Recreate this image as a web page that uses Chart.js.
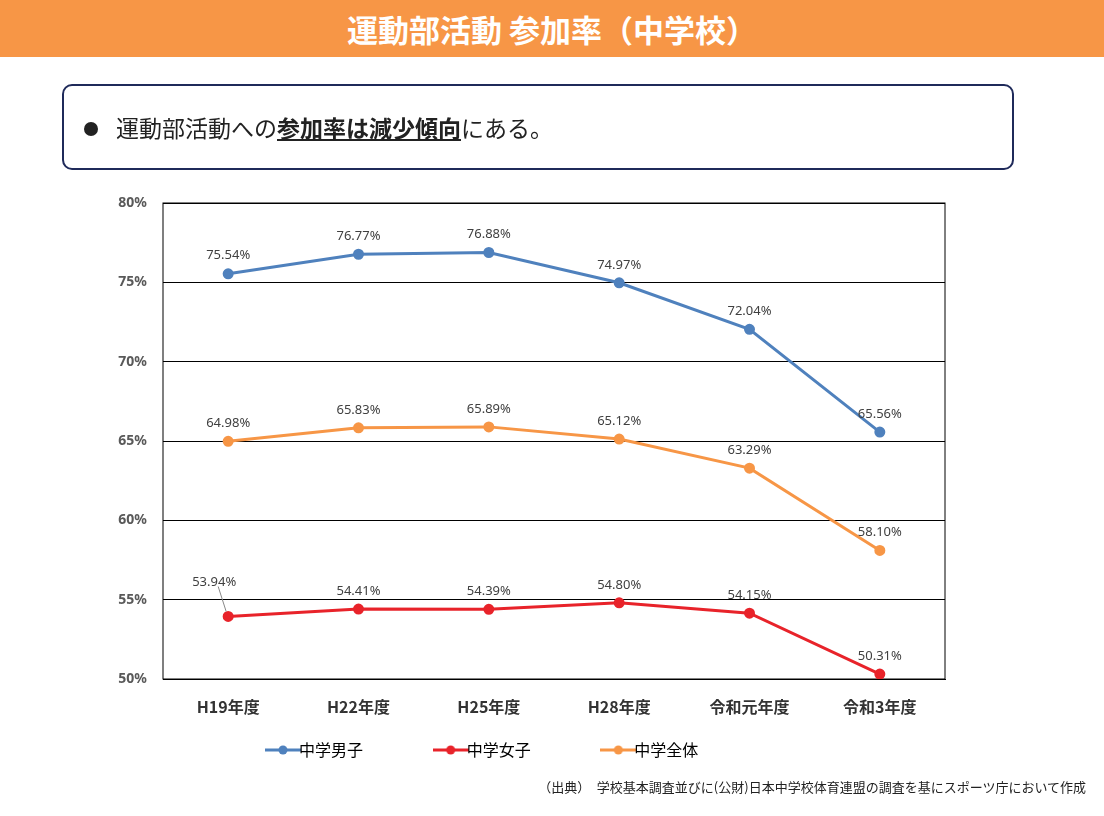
<!DOCTYPE html>
<html><head><meta charset="utf-8">
<script src="https://cdn.jsdelivr.net/npm/chart.js@4"></script>
<style>
body{margin:0;width:1104px;height:816px;position:relative;background:#fff;font-family:"Noto Sans CJK JP",sans-serif;overflow:hidden}
#title{position:absolute;left:0;top:0;width:1104px;height:57px;background:#F79646;color:#fff;font-weight:bold;font-size:31px;text-align:center;line-height:57px}
#box{position:absolute;left:62px;top:84px;width:948px;height:82px;border:2.5px solid #1F2A5A;border-radius:10px;font-size:23px;line-height:82px;color:#222}
#box .dot{display:inline-block;width:14px;height:14px;border-radius:7px;background:#222;margin:0 18px 0 20px;vertical-align:1px}
#box b{text-decoration:underline}
#src{position:absolute;right:18px;top:777px;font-size:13px;color:#222}
canvas{position:absolute;left:0;top:0}
</style></head><body>
<canvas id="lineChart" width="1104" height="816"></canvas>
<div id="title">運動部活動 参加率（中学校）</div>
<div id="box"><span class="dot"></span>運動部活動への<b>参加率は減少傾向</b>にある。</div>
<div id="src">（出典）　学校基本調査並びに(公財)日本中学校体育連盟の調査を基にスポーツ庁において作成</div>
<script>
var labels = ['H19年度','H22年度','H25年度','H28年度','令和元年度','令和3年度'];
var boys = [75.54, 76.77, 76.88, 74.97, 72.04, 65.56];
var girls = [53.94, 54.41, 54.39, 54.80, 54.15, 50.31];
var total = [64.98, 65.83, 65.89, 65.12, 63.29, 58.10];
var yTicks = [50, 55, 60, 65, 70, 75, 80];

function legendIcon(color) {
    var c = document.createElement('canvas');
    c.width = 36; c.height = 12;
    var x = c.getContext('2d');
    x.strokeStyle = color; x.lineWidth = 3;
    x.beginPath(); x.moveTo(0, 6); x.lineTo(36, 6); x.stroke();
    x.fillStyle = color; x.beginPath(); x.arc(18, 6, 4.5, 0, Math.PI * 2); x.fill();
    return c;
}

var valueLabels = {
    id: 'valueLabels',
    afterDatasetsDraw: function(chart) {
        var ctx = chart.ctx;
        ctx.save();
        ctx.font = '13px "Noto Sans", sans-serif';
        ctx.fillStyle = '#404040';
        ctx.textAlign = 'center';
        chart.data.datasets.forEach(function(ds, i) {
            chart.getDatasetMeta(i).data.forEach(function(pt, j) {
                var dx = 0, dy = -18;
                if (i === 1 && j === 0) {
                    dx = -14; dy = -34;
                    ctx.strokeStyle = '#888'; ctx.lineWidth = 1;
                    ctx.beginPath(); ctx.moveTo(pt.x - 10, pt.y - 30); ctx.lineTo(pt.x - 2, pt.y - 5); ctx.stroke();
                }
                ctx.fillText(ds.data[j].toFixed(2) + '%', pt.x + dx, pt.y + dy);
            });
        });
        ctx.restore();
    }
};

var plotBorder = {
    id: 'plotBorder',
    beforeDatasetsDraw: function(chart) {
        var a = chart.chartArea, ctx = chart.ctx;
        ctx.save(); ctx.strokeStyle = '#000'; ctx.lineWidth = 1;
        ctx.strokeRect(a.left, a.top, a.right - a.left, a.bottom - a.top);
        ctx.restore();
    }
};

function ds(name, data, color) {
    return { label: name, data: data, borderColor: color, backgroundColor: color,
        borderWidth: 3, pointRadius: 4, pointHoverRadius: 4, fill: false, _icon: legendIcon(color) };
}

new Chart(document.getElementById('lineChart'), {
    type: 'line',
    data: { labels: labels, datasets: [
        ds('中学男子', boys, '#4F81BD'),
        ds('中学女子', girls, '#E8232A'),
        ds('中学全体', total, '#F79646')
    ]},
    options: {
        responsive: false,
        animation: false,
        layout: { padding: { left: 100, right: 159, top: 203, bottom: 48 } },
        plugins: {
            tooltip: { enabled: false },
            legend: {
                position: 'bottom',
                labels: {
                    usePointStyle: true, padding: 8, boxWidth: 36,
                    color: '#333', font: { size: 16, family: '"Noto Sans CJK JP"' },
                    generateLabels: function(chart) {
                        return chart.data.datasets.map(function(d, i) {
                            return { text: d.label + '                    ', pointStyle: d._icon, datasetIndex: i,
                                     strokeStyle: d.borderColor, fillStyle: d.borderColor, lineWidth: 0 };
                        });
                    }
                }
            }
        },
        scales: {
            x: {
                offset: true,
                grid: { display: false },
                border: { color: '#000' },
                ticks: { color: '#333', font: { size: 16, weight: 'bold', family: '"Noto Sans CJK JP"' }, padding: 10 },
                afterFit: function(s) { s.height = 55; }
            },
            y: {
                min: 50, max: 80,
                afterBuildTicks: function(s) { s.ticks = yTicks.map(function(v) { return { value: v }; }); },
                grid: { color: '#000', drawTicks: false },
                border: { display: false },
                ticks: { color: '#595959', padding: 16, font: { size: 14, weight: 'bold', family: '"Noto Sans"' },
                         callback: function(v) { return v + '%'; } },
                afterFit: function(s) { s.width = 63; }
            }
        }
    },
    plugins: [plotBorder, valueLabels]
});
</script>
</body></html>
